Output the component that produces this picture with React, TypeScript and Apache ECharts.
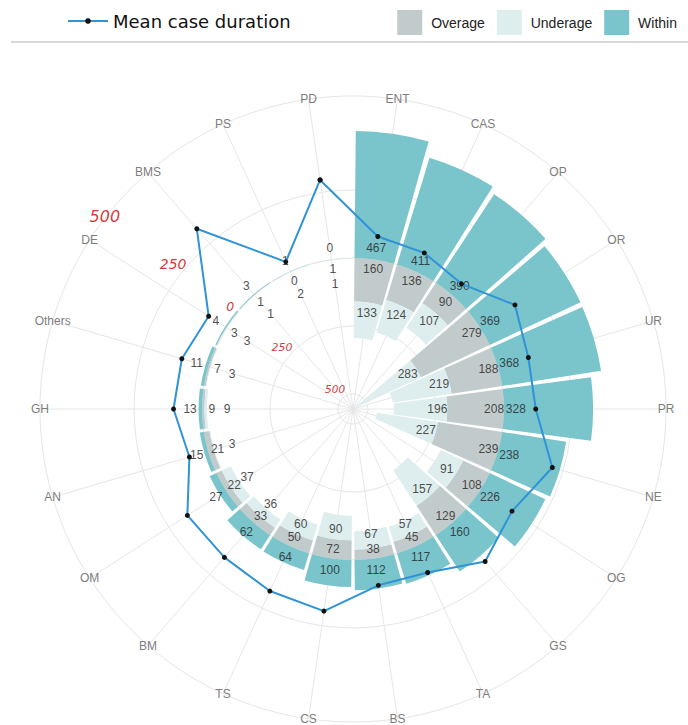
import React, { useEffect, useRef } from 'react';
import * as echarts from 'echarts';

// ---------- data ----------
const categories = ['PD', 'ENT', 'CAS', 'OP', 'OR', 'UR', 'PR', 'NE', 'OG', 'GS', 'TA', 'BS', 'CS', 'TS', 'BM', 'OM', 'AN', 'GH', 'Others', 'DE', 'BMS', 'PS'];
const within = [0, 467, 411, 390, 369, 368, 328, 238, 226, 160, 117, 112, 100, 64, 62, 27, 15, 13, 11, 4, 3, 1];
const overage = [1, 160, 136, 90, 279, 188, 208, 239, 108, 129, 45, 38, 72, 50, 33, 22, 21, 9, 7, 3, 1, 0];
const underage = [1, 133, 124, 107, 283, 219, 196, 227, 91, 157, 57, 67, 90, 60, 36, 37, 3, 9, 3, 3, 1, 2];
const meanDuration = [296, 86, 76, 54, 153, 117, 117, 209, 140, 187, 106, 100, 196, 181, 167, 169, 72, 105, 101, 76, 322, 40];
const radialTicks = [500, 250, 0, -250, -500];

// ---------- layout ----------
const CX = 353;
const CY = 409;
const R = 313;
const R_MIN = -555;
const R_MAX = 596;
const px = (v: number) => ((v - R_MIN) / (R_MAX - R_MIN)) * R;
const N = categories.length;
const STEP = 360 / N;
// positions of the red radial tick labels (nudge in data units, angle in spoke coords, font size)
const tickNudge = [100, 44, 33, 41, 43];
const tickAngle = [316, 317, 318, 319.3, 326];
const tickFont = [16, 14, 12.5, 11, 10.5];

const COLORS = {
  overage: '#c2cbcb',
  underage: '#deeeee',
  within: '#7ac4cc',
  line: '#2f93d8',
  grid: '#e6e6e6',
};

export default function App() {
  const ref = useRef<HTMLDivElement>(null);

  useEffect(() => {
    if (!ref.current) return;
    const chart = echarts.init(ref.current, undefined, { renderer: 'svg' });

    const labelFont = { fontFamily: 'Liberation Sans, Arial, sans-serif' };

    const barLabels: any[] = [];
    categories.forEach((c, i) => {
      barLabels.push({ value: [44, i], name: String(within[i]) });
      barLabels.push({ value: [-36, i], name: String(overage[i]) });
      barLabels.push({ value: [Math.min(-overage[i] - 37, -92), i], name: String(underage[i]) });
    });

    const lineData = meanDuration.map((v, i) => [v, i]);
    lineData.push([meanDuration[0], 0]);

    const option: any = {
      animation: false,
      legend: [
        {
          data: ['Mean case duration'],
          left: 62,
          top: 7,
          itemWidth: 40,
          itemHeight: 7,
          textStyle: { fontSize: 18, fontFamily: 'DejaVu Sans, Verdana, sans-serif', color: '#111' },
        },
        {
          data: ['Overage', 'Underage', 'Within'],
          right: 6,
          top: 5,
          icon: 'rect',
          itemWidth: 25,
          itemHeight: 25,
          itemGap: 12,
          formatter: (name: string) => '\u00a0' + name,
          textStyle: { fontSize: 14, ...labelFont, color: '#222' },
        },
      ],
      graphic: [
        {
          type: 'line',
          shape: { x1: 11, y1: 42, x2: 688, y2: 42 },
          style: { stroke: '#cccccc', lineWidth: 1.5 },
          silent: true,
        },
      ],
      polar: [
        { center: [CX, CY], radius: [0, R] },
        { center: [CX, CY], radius: [px(-500), px(250)] },
        { center: [CX, CY], radius: [0, R] },
      ],
      angleAxis: [
        { polarIndex: 0, type: 'category', data: categories, startAngle: 90 + STEP, clockwise: true, show: false },
        { polarIndex: 1, type: 'value', min: 0, max: 360, show: false },
        {
          polarIndex: 2,
          type: 'value',
          min: 0,
          max: 360,
          interval: STEP,
          startAngle: 90 + STEP / 2,
          clockwise: true,
          axisLine: { show: true, lineStyle: { color: COLORS.grid, width: 1 } },
          axisTick: { show: false },
          axisLabel: { show: false },
          splitLine: { show: true, lineStyle: { color: COLORS.grid, width: 1 } },
        },
      ],
      radiusAxis: [
        { polarIndex: 0, min: R_MIN, max: R_MAX, show: false },
        {
          polarIndex: 1,
          min: -500,
          max: 250,
          interval: 250,
          axisLine: { show: false },
          axisTick: { show: false },
          axisLabel: { show: false },
          splitLine: { show: true, lineStyle: { color: COLORS.grid, width: 1 } },
        },
        { polarIndex: 2, min: R_MIN, max: R_MAX, show: false },
      ],
      series: [
        {
          name: 'Overage',
          type: 'bar',
          coordinateSystem: 'polar',
          polarIndex: 0,
          stack: 'total',
          barCategoryGap: '7%',
          itemStyle: { color: COLORS.overage },
          data: overage.map((v) => -v),
          silent: true,
        },
        {
          name: 'Underage',
          type: 'bar',
          coordinateSystem: 'polar',
          polarIndex: 0,
          stack: 'total',
          barCategoryGap: '7%',
          itemStyle: { color: COLORS.underage },
          data: underage.map((v) => -v),
          silent: true,
        },
        {
          name: 'Within',
          type: 'bar',
          coordinateSystem: 'polar',
          polarIndex: 0,
          stack: 'total',
          barCategoryGap: '7%',
          itemStyle: { color: COLORS.within },
          data: within,
          silent: true,
        },
        {
          name: 'barLabels',
          type: 'scatter',
          coordinateSystem: 'polar',
          polarIndex: 0,
          clip: false,
          symbolSize: 0.1,
          itemStyle: { color: 'transparent' },
          silent: true,
          z: 4,
          label: { show: true, position: 'inside', formatter: '{b}', fontSize: 12, color: '#222', ...labelFont },
          data: barLabels,
        },
        {
          name: 'catLabels',
          type: 'scatter',
          coordinateSystem: 'polar',
          polarIndex: 0,
          clip: false,
          symbolSize: 0.1,
          itemStyle: { color: 'transparent' },
          silent: true,
          label: { show: true, position: 'inside', formatter: '{b}', fontSize: 12, color: '#595959', ...labelFont },
          data: categories.map((c, i) => ({ value: [R_MAX, i], name: c })),
        },
        {
          name: 'tickLabels',
          type: 'scatter',
          coordinateSystem: 'polar',
          polarIndex: 2,
          clip: false,
          symbolSize: 0.1,
          itemStyle: { color: 'transparent' },
          silent: true,
          z: 4,
          data: radialTicks.map((t, k) => ({
            value: [t + tickNudge[k], tickAngle[k]],
            name: String(Math.abs(t)),
            label: { fontSize: tickFont[k] },
          })),
          label: {
            show: true,
            position: 'inside',
            formatter: '{b}',
            color: '#cc0000',
            fontStyle: 'italic',
            fontFamily: 'DejaVu Sans, Verdana, sans-serif',
          },
        },
        {
          name: 'Mean case duration',
          type: 'line',
          coordinateSystem: 'polar',
          polarIndex: 0,
          z: 5,
          symbol: 'circle',
          symbolSize: 5,
          itemStyle: { color: '#111' },
          lineStyle: { color: COLORS.line, width: 2 },
          data: lineData,
          silent: true,
        },
      ],
    };

    chart.setOption(option);
    return () => chart.dispose();
  }, []);

  return (
    <div
      ref={ref}
      style={{ position: 'absolute', left: 0, top: 0, width: 688, height: 725, background: '#fff' }}
    />
  );
}
